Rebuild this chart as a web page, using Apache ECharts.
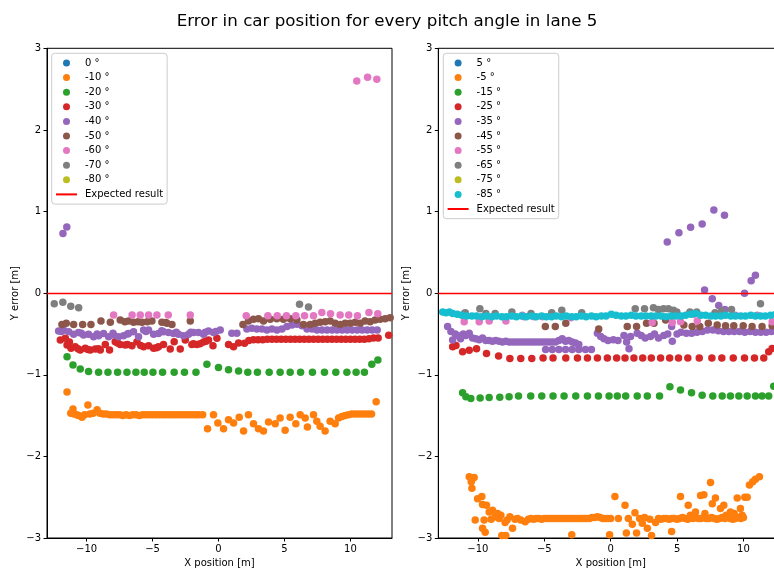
<!DOCTYPE html>
<html>
<head>
<meta charset="utf-8">
<script src="https://cdn.jsdelivr.net/npm/echarts@6/dist/echarts.min.js"></script>
<style>
  html, body { margin: 0; padding: 0; background: #ffffff; }
  #chart { width: 774px; height: 569px; }
</style>
</head>
<body>
<div id="chart"></div>
<script>
// Lateral error of the detected car position, one scatter series per camera pitch angle.
const TITLE = 'Error in car position for every pitch angle in lane 5';
const X_NAME = 'X position [m]';
const Y_NAME = 'Y error [m]';
const X_TICKS = [-10, -5, 0, 5, 10];
const EXPECTED_ERROR = 0;
const EXPECTED_NAME = 'Expected result';

const leftAngles = ['0 °', '-10 °', '-20 °', '-30 °', '-40 °', '-50 °', '-60 °', '-70 °', '-80 °'];
const rightAngles = ['5 °', '-5 °', '-15 °', '-25 °', '-35 °', '-45 °', '-55 °', '-65 °', '-75 °', '-85 °'];

// ---- left panel: pitch 0 ... -80 degrees, points as [x position, y error] ----
const left0 = [];
const leftM10 = [
  [-11.48,-1.21],[-11.03,-1.42],[-11.2,-1.47],[-10.95,-1.48],[-10.75,-1.49],[-10.6,-1.5],[-10.35,-1.52],[-10.15,-1.49],
  [-9.9,-1.37],[-9.75,-1.48],[-9.5,-1.47],[-9.2,-1.43],[-9.0,-1.47],[-8.75,-1.48],[-8.5,-1.48],[-8.25,-1.49],[-8.0,-1.49],
  [-7.75,-1.49],[-7.5,-1.49],[-7.25,-1.5],[-7.0,-1.49],[-6.75,-1.5],[-6.5,-1.49],[-6.25,-1.49],[-6.0,-1.5],[-5.75,-1.49],
  [-5.5,-1.49],[-5.25,-1.49],[-5.0,-1.49],[-4.75,-1.49],[-4.5,-1.49],[-4.25,-1.49],[-4.0,-1.49],[-3.75,-1.49],[-3.5,-1.49],
  [-3.25,-1.49],[-3.0,-1.49],[-2.75,-1.49],[-2.5,-1.49],[-2.25,-1.49],[-2.0,-1.49],[-1.75,-1.49],[-1.5,-1.49],[-1.2,-1.49],
  [-0.38,-1.49],[-0.83,-1.66],[-0.05,-1.59],[0.38,-1.66],[0.76,-1.55],[1.14,-1.59],[1.57,-1.52],[1.9,-1.69],[2.27,-1.49],
  [2.65,-1.6],[3.03,-1.66],[3.41,-1.69],[3.79,-1.58],[4.3,-1.6],[4.67,-1.53],[5.05,-1.68],[5.43,-1.52],[5.86,-1.6],
  [6.19,-1.49],[6.57,-1.53],[6.74,-1.64],[7.2,-1.49],[7.45,-1.57],[7.7,-1.63],[8.08,-1.69],[8.46,-1.57],[8.84,-1.6],
  [9.1,-1.53],[9.35,-1.51],[9.6,-1.5],[9.85,-1.49],[10.1,-1.48],[10.35,-1.48],[10.6,-1.48],[10.85,-1.48],[11.1,-1.48],
  [11.35,-1.48],[11.6,-1.48],[11.95,-1.33]
];
const leftM20 = [
  [-11.48,-0.78],[-11.03,-0.88],[-10.48,-0.93],[-9.85,-0.96],[-9.09,-0.97],[-8.38,-0.97],[-7.65,-0.97],[-6.94,-0.97],
  [-6.26,-0.97],[-5.63,-0.97],[-4.97,-0.97],[-4.24,-0.97],[-3.36,-0.97],[-2.58,-0.97],[-1.71,-0.97],[-0.88,-0.87],
  [0.0,-0.91],[0.76,-0.94],[1.52,-0.955],[2.22,-0.97],[2.95,-0.97],[3.84,-0.97],[4.67,-0.97],[5.43,-0.97],[6.22,-0.97],
  [7.12,-0.97],[8.03,-0.97],[8.89,-0.97],[9.73,-0.97],[10.43,-0.97],[11.06,-0.97],[11.62,-0.87],[12.08,-0.82]
];
const leftM30 = [
  [-11.99,-0.575],[-11.61,-0.554],[-11.48,-0.636],[-11.3,-0.6],[-11.18,-0.676],[-10.86,-0.656],[-10.65,-0.68],[-10.48,-0.697],
  [-10.1,-0.676],[-9.9,-0.69],[-9.72,-0.697],[-9.34,-0.685],[-9.1,-0.68],[-8.96,-0.697],[-8.58,-0.628],[-8.26,-0.697],
  [-7.83,-0.595],[-7.65,-0.61],[-7.45,-0.628],[-7.07,-0.636],[-6.9,-0.63],[-6.56,-0.644],[-6.18,-0.595],[-5.9,-0.64],
  [-5.68,-0.656],[-5.3,-0.644],[-4.92,-0.676],[-4.7,-0.67],[-4.55,-0.656],[-4.17,-0.628],[-3.66,-0.685],[-3.36,-0.595],
  [-2.9,-0.685],[-2.52,-0.575],[-2.02,-0.628],[-1.9,-0.62],[-1.64,-0.628],[-1.4,-0.62],[-1.14,-0.6],[-0.95,-0.59],
  [-0.76,-0.575],[-0.42,-0.644],[-0.12,-0.554],[0.76,-0.628],[1.14,-0.656],[1.52,-0.61],[1.97,-0.615],[2.3,-0.58],
  [2.65,-0.57],[3.0,-0.57],[3.35,-0.57],[3.7,-0.565],[4.05,-0.565],[4.4,-0.565],[4.75,-0.565],[5.1,-0.565],[5.45,-0.565],
  [5.8,-0.565],[6.15,-0.565],[6.5,-0.565],[6.85,-0.565],[7.2,-0.565],[7.55,-0.565],[7.9,-0.565],[8.25,-0.565],[8.6,-0.565],
  [8.95,-0.565],[9.3,-0.565],[9.65,-0.565],[10.0,-0.565],[10.35,-0.565],[10.7,-0.565],[11.05,-0.565],[11.4,-0.56],
  [11.75,-0.55],[12.1,-0.55],[12.9,-0.515]
];
const leftM40 = [
  [-11.79,0.73],[-11.5,0.81],
  [-12.12,-0.464],[-11.9,-0.47],[-11.74,-0.452],[-11.36,-0.473],[-10.98,-0.505],[-10.61,-0.481],[-10.4,-0.49],[-10.23,-0.514],
  [-9.85,-0.505],[-9.47,-0.534],[-9.2,-0.5],[-9.09,-0.522],[-8.71,-0.493],[-8.33,-0.534],[-8.0,-0.49],[-7.95,-0.514],
  [-7.58,-0.534],[-7.2,-0.522],[-6.9,-0.5],[-6.82,-0.493],[-6.44,-0.473],[-6.06,-0.534],[-5.68,-0.452],[-5.5,-0.47],
  [-5.3,-0.452],[-4.92,-0.505],[-4.55,-0.493],[-4.3,-0.46],[-4.17,-0.473],[-3.79,-0.481],[-3.41,-0.493],[-3.2,-0.48],
  [-3.03,-0.505],[-2.65,-0.522],[-2.27,-0.505],[-2.1,-0.48],[-1.89,-0.481],[-1.52,-0.481],[-1.14,-0.505],[-1.0,-0.48],
  [-0.76,-0.464],[-0.38,-0.481],[-0.2,-0.47],[0.13,-0.452],[1.01,-0.49],[1.39,-0.49],[2.15,-0.44],[2.53,-0.43],
  [2.91,-0.44],[3.29,-0.44],[3.67,-0.45],[4.05,-0.44],[4.43,-0.45],[4.81,-0.44],[5.19,-0.41],[5.57,-0.39],[5.95,-0.38],
  [6.33,-0.4],[6.71,-0.44],[7.09,-0.44],[7.47,-0.45],[7.85,-0.45],[8.23,-0.45],[8.61,-0.45],[8.99,-0.45],[9.37,-0.45],
  [9.75,-0.45],[10.13,-0.45],[10.51,-0.45],[10.89,-0.45],[11.27,-0.45],[11.65,-0.45],[12.03,-0.45]
];
const leftM50 = [
  [-11.87,-0.383],[-11.54,-0.37],[-10.98,-0.383],[-10.3,-0.383],[-9.67,-0.383],[-8.91,-0.342],[-8.2,-0.358],[-7.45,-0.33],
  [-7.1,-0.35],[-6.82,-0.342],[-6.44,-0.358],[-6.1,-0.35],[-5.8,-0.358],[-5.4,-0.35],[-5.05,-0.342],[-4.29,-0.358],
  [-4.0,-0.36],[-3.91,-0.37],[-3.53,-0.383],[-2.14,-0.342],[1.85,-0.383],[2.27,-0.342],[2.65,-0.32],[3.03,-0.313],
  [3.41,-0.342],[3.92,-0.32],[4.42,-0.313],[4.92,-0.32],[5.43,-0.313],[5.94,-0.33],[6.44,-0.383],[6.95,-0.383],[7.33,-0.37],
  [7.7,-0.358],[8.08,-0.35],[8.46,-0.342],[8.84,-0.37],[9.22,-0.383],[9.6,-0.37],[9.98,-0.37],[10.36,-0.358],[10.74,-0.37],
  [11.11,-0.342],[11.49,-0.35],[11.87,-0.33],[12.25,-0.32],[12.63,-0.313],[13.01,-0.3]
];
const leftM60 = [
  [10.48,2.6],[11.3,2.645],[12.0,2.62],
  [-7.95,-0.268],[-6.55,-0.268],[-5.93,-0.268],[-5.3,-0.268],[-4.67,-0.268],[-3.81,-0.268],[-2.14,-0.268],
  [2.1,-0.277],[3.74,-0.277],[4.45,-0.277],[5.15,-0.277],[5.86,-0.277],[6.52,-0.277],[7.2,-0.277],[7.83,-0.236],
  [8.49,-0.252],[9.22,-0.268],[9.87,-0.268],[10.53,-0.277],[11.4,-0.236],[12.07,-0.252]
];
const leftM70 = [[-12.45,-0.13],[-11.8,-0.11],[-11.2,-0.16],[-10.6,-0.18],[6.14,-0.137],[6.82,-0.17]];
const leftM80 = [];

// ---- right panel: pitch 5 ... -85 degrees ----
const right5 = [];
const rightM5 = [
  [-10.65,-2.25],[-10.4,-2.27],[-10.28,-2.26],[-10.5,-2.31],[-10.45,-2.39],[-10.2,-2.78],[-10.02,-2.52],[-9.7,-2.49],
  [-9.65,-2.59],[-9.35,-2.6],[-9.53,-2.78],[-9.65,-2.88],[-9.45,-2.93],[-9.15,-2.68],[-9.0,-2.77],[-8.9,-2.66],[-8.7,-2.74],
  [-8.52,-2.7],[-8.4,-2.76],[-8.27,-2.72],[-7.95,-2.81],[-8.2,-2.97],[-7.9,-2.97],[-7.8,-2.78],[-7.59,-2.74],[-7.39,-2.88],
  [-7.2,-2.77],[-7.02,-2.76],[-6.77,-2.78],[-6.44,-2.8],
  [-6.2,-2.77],[-6.0,-2.76],[-5.8,-2.77],[-5.6,-2.76],[-5.4,-2.76],[-5.2,-2.77],[-5.0,-2.76],[-4.8,-2.76],[-4.6,-2.76],
  [-4.4,-2.76],[-4.2,-2.76],[-4.0,-2.76],[-3.8,-2.76],[-3.6,-2.76],[-3.4,-2.76],[-3.2,-2.76],[-3.0,-2.76],[-2.8,-2.76],
  [-2.6,-2.76],[-2.4,-2.76],[-2.2,-2.76],[-2.0,-2.76],[-1.8,-2.76],[-1.6,-2.76],[-1.4,-2.75],[-1.2,-2.75],[-1.0,-2.74],
  [-0.8,-2.75],[-0.6,-2.76],[-0.4,-2.76],[-0.2,-2.76],[0.0,-2.76],
  [-2.93,-2.96],[-0.08,-2.96],[0.32,-2.49],[0.58,-2.76],[1.08,-2.6],[1.33,-2.76],[1.18,-2.94],[1.63,-2.83],[1.83,-2.69],
  [1.95,-2.94],[2.18,-2.76],[2.38,-2.82],[2.55,-2.75],[2.76,-2.88],[2.95,-2.77],[3.08,-2.97],[3.38,-2.81],
  [3.6,-2.76],[3.8,-2.77],[4.0,-2.76],[4.2,-2.76],[4.4,-2.77],[4.6,-2.76],[4.8,-2.76],[5.0,-2.77],[5.2,-2.76],[5.4,-2.75],
  [5.6,-2.76],[5.8,-2.77],[6.0,-2.72],[6.2,-2.76],[6.4,-2.75],[6.6,-2.76],[6.8,-2.76],[7.0,-2.75],[7.2,-2.76],[7.4,-2.76],
  [7.6,-2.75],[7.8,-2.76],[8.0,-2.77],[8.2,-2.76],[8.4,-2.75],[8.6,-2.76],[8.8,-2.74],[9.0,-2.76],[9.2,-2.77],[9.4,-2.76],
  [9.6,-2.75],[9.8,-2.76],[10.0,-2.75],
  [4.59,-2.92],[5.26,-2.49],[5.84,-2.6],[6.39,-2.68],[6.77,-2.48],[7.02,-2.47],[7.1,-2.7],[7.52,-2.32],[7.89,-2.51],
  [7.65,-2.58],[8.27,-2.64],[8.52,-2.6],[8.7,-2.72],[9.02,-2.68],[9.3,-2.7],[9.53,-2.51],[9.77,-2.64],[9.9,-2.72],
  [10.1,-2.5],[10.28,-2.5],[10.45,-2.35],[10.7,-2.31],[10.9,-2.28],[11.2,-2.25]
];
const rightM15 = [
  [-11.15,-1.22],[-10.9,-1.27],[-10.53,-1.29],[-9.83,-1.285],[-9.15,-1.28],[-8.35,-1.275],[-7.65,-1.27],[-6.94,-1.26],
  [-6.02,-1.26],[-5.19,-1.26],[-4.34,-1.26],[-3.51,-1.26],[-2.63,-1.26],[-1.75,-1.26],[-0.92,-1.26],[-0.12,-1.26],
  [0.5,-1.26],[1.13,-1.26],[2.0,-1.26],[2.76,-1.26],[3.68,-1.26],[4.46,-1.147],[5.26,-1.187],[6.09,-1.22],[6.89,-1.25],
  [7.69,-1.26],[8.4,-1.26],[9.02,-1.26],[9.65,-1.26],[10.28,-1.26],[10.9,-1.26],[11.4,-1.26],[11.9,-1.26],[12.28,-1.14]
];
const rightM25 = [
  [-11.9,-0.657],[-11.65,-0.64],[-11.15,-0.718],[-10.65,-0.7],[-10.1,-0.68],[-9.35,-0.74],[-8.44,-0.771],[-7.59,-0.8],
  [-6.77,-0.8],[-5.94,-0.8],[-5.09,-0.795],[-4.34,-0.795],[-3.38,-0.795],[-2.5,-0.795],[-1.75,-0.795],[-1.0,-0.795],
  [-0.25,-0.795],[0.45,-0.795],[1.08,-0.795],[1.75,-0.795],[2.41,-0.795],[3.06,-0.795],[3.76,-0.795],[4.44,-0.795],
  [5.11,-0.795],[5.81,-0.795],[6.67,-0.795],[7.62,-0.795],[8.37,-0.795],[9.23,-0.795],[10.08,-0.795],[10.83,-0.795],
  [11.53,-0.795],[11.9,-0.718],[12.16,-0.677]
];
const rightM35 = [
  [4.26,0.626],[5.14,0.74],[6.02,0.806],[6.89,0.847],[7.77,1.018],[8.57,0.953],[7.07,0.038],[7.65,-0.07],[8.14,-0.15],
  [8.6,-0.2],[10.08,0.0],[10.58,0.152],[10.9,0.22],
  [-12.28,-0.41],[-12.03,-0.47],[-11.9,-0.575],[-11.7,-0.5],[-11.53,-0.52],[-11.3,-0.56],[-11.1,-0.5],[-10.9,-0.52],
  [-10.65,-0.49],[-10.4,-0.55],[-10.15,-0.56],[-9.9,-0.57],[-9.65,-0.55],[-9.4,-0.58],[-9.15,-0.58],[-8.9,-0.59],
  [-8.65,-0.58],[-8.4,-0.59],[-8.15,-0.6],[-7.9,-0.59],[-7.65,-0.6],[-7.4,-0.6],[-7.15,-0.6],[-6.9,-0.6],[-6.65,-0.6],
  [-6.4,-0.6],[-6.15,-0.6],[-5.9,-0.6],[-5.65,-0.6],[-5.4,-0.6],[-5.15,-0.6],[-4.9,-0.6],[-4.65,-0.6],[-4.4,-0.6],
  [-4.15,-0.6],[-3.9,-0.58],[-3.65,-0.56],[-3.4,-0.59],[-3.15,-0.58],[-2.9,-0.6],[-2.65,-0.61],[-2.4,-0.63],
  [-4.9,-0.69],[-4.4,-0.69],[-3.9,-0.69],[-3.4,-0.69],[-2.9,-0.69],[-2.4,-0.69],[-1.9,-0.69],[-1.45,-0.69],
  [-1.0,-0.49],[-0.75,-0.53],[-0.5,-0.56],[-0.2,-0.58],[0.2,-0.57],[0.55,-0.58],[1.0,-0.52],[1.2,-0.6],[1.38,-0.68],
  [1.5,-0.53],[2.0,-0.49],[2.3,-0.52],[2.6,-0.55],[3.0,-0.53],[3.3,-0.5],[3.6,-0.55],[4.0,-0.52],[4.3,-0.5],[4.59,-0.41],
  [4.64,-0.59],[5.0,-0.5],[5.3,-0.48],[5.7,-0.49],[6.1,-0.49],[6.5,-0.48],[6.9,-0.47],[7.3,-0.45],[7.7,-0.45],[8.1,-0.46],
  [8.5,-0.47],[8.9,-0.47],[9.3,-0.47],[9.7,-0.47],[10.1,-0.48],[10.5,-0.47],[10.9,-0.48],[11.3,-0.48],[11.7,-0.48],
  [12.1,-0.47],[12.5,-0.47]
];
const rightM45 = [
  [-4.92,-0.41],[-4.17,-0.41],[-3.38,-0.37],[-0.9,-0.44],[1.25,-0.41],[1.95,-0.41],[2.7,-0.37],[3.26,-0.37],[4.14,-0.33],
  [5.51,-0.39],[6.14,-0.41],[6.71,-0.41],[7.35,-0.37],[8.02,-0.39],[8.65,-0.4],[9.27,-0.4],[9.98,-0.4],[10.65,-0.41],
  [11.4,-0.41],[12.16,-0.4]
];
const rightM55 = [
  [-11.03,-0.35],[-11.03,-0.25],[-9.9,-0.35],[-9.15,-0.34],[-7.89,-0.34],[-6.65,-0.27],[-6.52,-0.29],[-5.76,-0.29],
  [-5.14,-0.29],[-3.0,-0.3],[3.13,-0.36],[4.64,-0.36],[5.26,-0.35],[6.26,-0.26],[6.52,-0.34],[9.4,-0.27],[11.03,-0.27],
  [12.16,-0.35]
];
const rightM65 = [
  [-10.95,-0.24],[-9.85,-0.19],[-9.4,-0.25],[-8.7,-0.25],[-7.44,-0.23],[-6.0,-0.25],[-4.44,-0.24],[-3.68,-0.21],[-2.18,-0.24],
  [1.85,-0.19],[2.55,-0.19],[3.22,-0.18],[3.6,-0.2],[3.98,-0.19],[4.35,-0.19],[4.73,-0.21],[4.98,-0.23],[5.97,-0.23],
  [6.48,-0.23],[7.86,-0.24],[8.36,-0.215],[9.1,-0.2],[11.28,-0.13]
];
const rightM75 = [];
const rightM85 = [
  [-12.65,-0.23],[-12.4,-0.24],[-12.15,-0.23],[-11.9,-0.25],[-11.55,-0.26],[-11.2,-0.27],[-10.85,-0.28],[-10.45,-0.28],
  [-10.1,-0.28],[-9.7,-0.29],[-9.35,-0.28],[-8.95,-0.29],[-8.6,-0.28],[-8.2,-0.29],[-7.85,-0.29],[-7.45,-0.28],[-7.1,-0.29],
  [-6.7,-0.28],[-6.35,-0.29],[-5.95,-0.28],[-5.6,-0.29],[-5.2,-0.28],[-4.85,-0.29],[-4.45,-0.29],[-4.1,-0.28],[-3.7,-0.29],
  [-3.35,-0.28],[-2.95,-0.29],[-2.6,-0.29],[-2.2,-0.28],[-1.85,-0.29],[-1.45,-0.28],[-1.1,-0.29],[-0.7,-0.28],[-0.35,-0.28],
  [0.05,-0.26],[0.4,-0.27],[0.8,-0.28],[1.15,-0.28],[1.55,-0.27],[1.9,-0.28],[2.3,-0.28],[2.65,-0.28],[3.05,-0.28],
  [3.4,-0.28],[3.8,-0.28],[4.15,-0.29],[4.55,-0.28],[4.9,-0.28],[5.3,-0.28],[5.65,-0.27],[6.05,-0.26],[6.4,-0.25],
  [6.8,-0.27],[7.15,-0.27],[7.55,-0.28],[7.9,-0.28],[8.3,-0.28],[8.65,-0.27],[9.05,-0.28],[9.4,-0.28],[9.8,-0.28],
  [10.15,-0.28],[10.55,-0.27],[10.9,-0.28],[11.3,-0.28],[11.65,-0.28],[12.05,-0.27],[12.4,-0.26],[12.8,-0.25]
];

const leftData = [left0, leftM10, leftM20, leftM30, leftM40, leftM50, leftM60, leftM70, leftM80];
const rightData = [right5, rightM5, rightM15, rightM25, rightM35, rightM45, rightM55, rightM65, rightM75, rightM85];

// matplotlib "tab10" cycle
const PALETTE = ['#1f77b4', '#ff7f0e', '#2ca02c', '#d62728', '#9467bd', '#8c564b', '#e377c2', '#7f7f7f', '#bcbd22', '#17becf'];
const FONT = 'DejaVu Sans';
const minusSign = v => String(v).replace('-', '\u2212');

function xAxisFor(idx, min, max) {
  return {
    gridIndex: idx, type: 'value', min: min, max: max,
    name: X_NAME, nameLocation: 'middle', nameGap: 20,
    nameTextStyle: { fontFamily: FONT, fontSize: 10, color: '#000' },
    axisLine: { show: true, onZero: false, lineStyle: { color: '#000', width: 1 } },
    axisTick: { show: true, inside: false, length: 3.5, lineStyle: { color: '#000' }, customValues: X_TICKS },
    axisLabel: { fontFamily: FONT, fontSize: 10, color: '#000', margin: 6, customValues: X_TICKS, formatter: minusSign },
    splitLine: { show: false }
  };
}
function yAxisFor(idx) {
  return {
    gridIndex: idx, type: 'value', min: -3, max: 3, interval: 1,
    name: Y_NAME, nameLocation: 'middle', nameGap: 27,
    nameTextStyle: { fontFamily: FONT, fontSize: 10, color: '#000' },
    axisLine: { show: true, onZero: false, lineStyle: { color: '#000', width: 1 } },
    axisTick: { show: true, inside: false, length: 3.5, lineStyle: { color: '#000' } },
    axisLabel: { fontFamily: FONT, fontSize: 10, color: '#000', margin: 6, formatter: minusSign },
    splitLine: { show: false }
  };
}
function legendFor(names, left) {
  const items = names.map(n => n === EXPECTED_NAME
    ? { name: n, itemStyle: { color: 'rgba(0,0,0,0)', borderWidth: 0, opacity: 0 } }
    : { name: n });
  return {
    orient: 'vertical', left: left, top: 53.3,
    data: items,
    itemWidth: 21, itemHeight: 7, itemGap: 0,
    padding: [2.4, 4, 2.4, 3.3],
    backgroundColor: 'rgba(255,255,255,0.8)', borderColor: '#cccccc', borderWidth: 1, borderRadius: 3,
    selectedMode: false,
    textStyle: { fontFamily: FONT, fontSize: 10, color: '#000', lineHeight: 14.6, padding: [0, 0, 0, 3] }
  };
}

const series = [];
function addPanel(names, data, idx) {
  names.forEach((name, i) => {
    series.push({
      type: 'scatter', name: name, xAxisIndex: idx, yAxisIndex: idx,
      data: data[i], symbol: 'circle', symbolSize: 7.5,
      itemStyle: { color: PALETTE[i], opacity: 1 },
      emphasis: { disabled: true }
    });
  });
  series.push({
    type: 'line', name: EXPECTED_NAME, xAxisIndex: idx, yAxisIndex: idx,
    data: [], symbol: 'none', color: '#ff0000',
    lineStyle: { color: '#ff0000', width: 1.5 },
    markLine: {
      silent: true, symbol: 'none', label: { show: false },
      lineStyle: { color: '#ff0000', width: 1.3, type: 'solid' },
      emphasis: { disabled: true },
      data: [{ yAxis: EXPECTED_ERROR }]
    }
  });
}
addPanel(leftAngles, leftData, 0);
addPanel(rightAngles, rightData, 1);

const gridBase = {
  top: 48.3, width: 345, height: 489.7, show: true, borderColor: '#000', borderWidth: 1,
  backgroundColor: 'transparent', containLabel: false, outerBoundsMode: 'none'
};

const chart = echarts.init(document.getElementById('chart'), null, { renderer: 'canvas' });
chart.setOption({
  animation: false,
  backgroundColor: '#ffffff',
  textStyle: { fontFamily: FONT },
  title: {
    text: TITLE, left: 'center', top: 13, padding: 0,
    textStyle: { fontFamily: FONT, fontSize: 16.7, fontWeight: 'normal', color: '#000' }
  },
  grid: [
    Object.assign({ left: 47 }, gridBase),
    Object.assign({ left: 438.3 }, gridBase)
  ],
  xAxis: [xAxisFor(0, -13.0, 13.15), xAxisFor(1, -12.98, 13.0)],
  yAxis: [yAxisFor(0), yAxisFor(1)],
  legend: [
    legendFor(leftAngles.concat([EXPECTED_NAME]), 51.7),
    legendFor(rightAngles.concat([EXPECTED_NAME]), 443.3)
  ],
  series: series
});
</script>
</body>
</html>
